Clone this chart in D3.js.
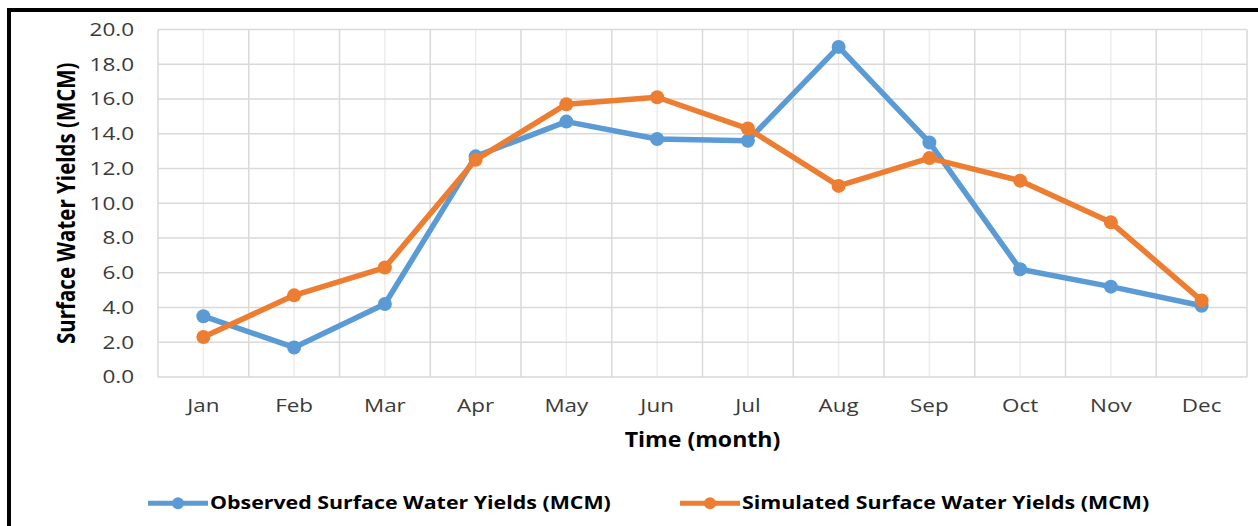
<!DOCTYPE html>
<html>
<head>
<meta charset="utf-8">
<script src="https://cdn.jsdelivr.net/npm/d3@7"></script>
<style>
html,body{margin:0;padding:0;background:#fff;}
svg{display:block;}
</style>
</head>
<body>
<svg id="chart" width="1258" height="526"></svg>
<script>
const months = ["Jan","Feb","Mar","Apr","May","Jun","Jul","Aug","Sep","Oct","Nov","Dec"];
const observed = [3.5, 1.7, 4.2, 12.7, 14.7, 13.7, 13.6, 19.0, 13.5, 6.2, 5.2, 4.1];
const simulated = [2.3, 4.7, 6.3, 12.5, 15.7, 16.1, 14.3, 11.0, 12.6, 11.3, 8.9, 4.4];
const yTicks = [0, 2, 4, 6, 8, 10, 12, 14, 16, 18, 20];
const seriesNames = ["Observed Surface Water Yields (MCM)", "Simulated Surface Water Yields (MCM)"];
const colors = ["#5B9BD5", "#ED7D31"];
const xTitle = "Time (month)";
const yTitle = "Surface Water Yields (MCM)";

const svg = d3.select("#chart");
const W = 1258, H = 526;
const plot = {left: 158, right: 1247, top: 29.5, bottom: 377};

svg.append("rect").attr("width", W).attr("height", H).attr("fill", "#fff");
// frame
svg.append("line").attr("x1", 7).attr("x2", W).attr("y1", 10).attr("y2", 10)
  .attr("stroke", "#000").attr("stroke-width", 4);
svg.append("line").attr("x1", 9).attr("x2", 9).attr("y1", 8).attr("y2", H)
  .attr("stroke", "#000").attr("stroke-width", 4);

const x = d3.scaleBand().domain(months).range([plot.left, plot.right]).padding(0);
const y = d3.scaleLinear().domain([0, 20]).range([plot.bottom, plot.top]);

const font = "'Open Sans', sans-serif";

// minor vertical gridlines at category centers
svg.append("g").selectAll("line").data(months).join("line")
  .attr("x1", d => x(d) + x.bandwidth()/2).attr("x2", d => x(d) + x.bandwidth()/2)
  .attr("y1", plot.top).attr("y2", plot.bottom)
  .attr("stroke", "#ececec").attr("stroke-width", 1.5);
// major vertical gridlines at category boundaries
const bounds = months.map(d => x(d)).concat([plot.right]);
svg.append("g").selectAll("line").data(bounds).join("line")
  .attr("x1", d => d).attr("x2", d => d)
  .attr("y1", plot.top).attr("y2", plot.bottom)
  .attr("stroke", "#d9d9d9").attr("stroke-width", 1.5);
// horizontal gridlines
svg.append("g").selectAll("line").data(yTicks).join("line")
  .attr("x1", plot.left).attr("x2", plot.right)
  .attr("y1", d => y(d)).attr("y2", d => y(d))
  .attr("stroke", "#d9d9d9").attr("stroke-width", 1.5);

// y axis labels
const SY = 1.25;
const yAxis = d3.axisLeft(y).tickValues(yTicks).tickFormat(d3.format(".1f")).tickSize(0).tickPadding(24);
const gy = svg.append("g").attr("transform", `translate(${plot.left},0)`).call(yAxis);
gy.select(".domain").remove();
gy.selectAll("text").attr("font-family", font).attr("font-size", 18).attr("fill", "#3a3a3a")
  .attr("x", -24 / SY).attr("transform", `scale(${SY},1)`);

// x axis labels
const xAxis = d3.axisBottom(x).tickSize(0).tickPadding(21.5);
const gx = svg.append("g").attr("transform", `translate(0,${plot.bottom})`).call(xAxis);
gx.select(".domain").remove();
gx.selectAll("text").attr("font-family", font).attr("font-size", 19).attr("fill", "#3a3a3a")
  .attr("transform", `scale(1.18,1)`);

// titles
svg.append("text").attr("transform", `translate(${(plot.left + plot.right)/2},446.5) scale(1.1,1)`)
  .attr("text-anchor", "middle").attr("font-family", font).attr("font-weight", "bold")
  .attr("font-size", 21).attr("fill", "#000").text(xTitle);
svg.append("text").attr("transform", `translate(75,${(plot.top + plot.bottom)/2}) rotate(-90) scale(1,1.2)`)
  .attr("text-anchor", "middle").attr("font-family", font).attr("font-weight", "bold")
  .attr("font-size", 20.5).attr("fill", "#000").text(yTitle);

// series
const data = [observed, simulated];
const line = d3.line().x((d, i) => x(months[i]) + x.bandwidth()/2).y(d => y(d));
data.forEach((vals, k) => {
  const g = svg.append("g");
  g.append("path").datum(vals).attr("d", line).attr("fill", "none")
    .attr("stroke", colors[k]).attr("stroke-width", 5.5).attr("stroke-linejoin", "round");
  g.selectAll("circle").data(vals).join("circle")
    .attr("cx", (d, i) => x(months[i]) + x.bandwidth()/2).attr("cy", d => y(d))
    .attr("r", 7).attr("fill", colors[k]);
});

// legend
const legendX = [148, 680];
const legendY = 503.3;
seriesNames.forEach((name, k) => {
  const g = svg.append("g").attr("transform", `translate(${legendX[k]},${legendY})`);
  g.append("line").attr("x1", 0).attr("x2", 60).attr("y1", 0).attr("y2", 0)
    .attr("stroke", colors[k]).attr("stroke-width", 5);
  g.append("circle").attr("cx", 30).attr("cy", 0).attr("r", 6).attr("fill", colors[k]);
  g.append("text").attr("transform", `translate(62,6) scale(1.2,1)`)
    .attr("font-family", font).attr("font-weight", "bold").attr("font-size", 17.8)
    .attr("fill", "#000").text(name);
});
</script>
</body>
</html>
